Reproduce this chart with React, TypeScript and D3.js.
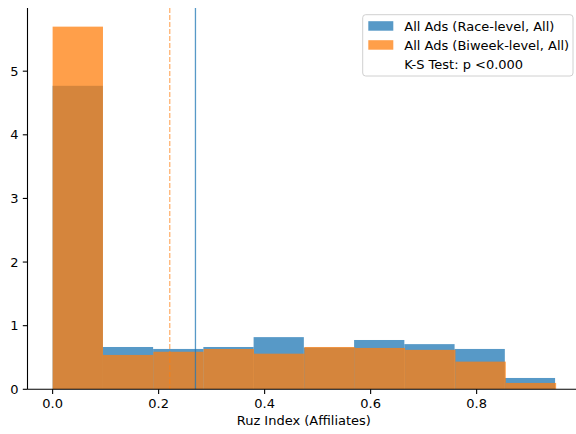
import React from "react";
import * as d3 from "d3";

const blueEdges = [0, 0.0948, 0.1896, 0.2844, 0.3792, 0.474, 0.5688, 0.6636, 0.7584, 0.8532, 0.948];
const blueValues = [4.77, 0.665, 0.634, 0.665, 0.82, 0.655, 0.775, 0.71, 0.634, 0.178];
const orangeEdges = [0, 0.095, 0.19, 0.285, 0.38, 0.475, 0.57, 0.665, 0.76, 0.855, 0.95];
const orangeValues = [5.7, 0.54, 0.59, 0.634, 0.56, 0.665, 0.65, 0.62, 0.435, 0.1];
const blueMean = 0.2695;
const orangeMean = 0.221;
const xTicks = [0, 0.2, 0.4, 0.6, 0.8];
const yTicks = [0, 1, 2, 3, 4, 5];
const legendLabels = ["All Ads (Race-level, All)", "All Ads (Biweek-level, All)", "K-S Test: p <0.000"];
const xLabel = "Ruz Index (Affiliates)";

const W = 576, H = 434;
const left = 27.5, right = 580.2, top = 8, bottom = 389.3;
const BLUE = "#1f77b4", ORANGE = "#ff7f0e";
const FONT = "DejaVu Sans, sans-serif";

export default function App() {
  const x = d3.scaleLinear().domain([-0.0474, 0.9954]).range([left, right]);
  const y = d3.scaleLinear().domain([0, 5.993]).range([bottom, top]);

  const bars = (edges: number[], vals: number[], color: string, key: string) =>
    vals.map((v, i) => (
      <rect
        key={key + i}
        x={x(edges[i])}
        y={y(v)}
        width={x(edges[i + 1]) - x(edges[i])}
        height={y(0) - y(v)}
        fill={color}
        fillOpacity={0.75}
      />
    ));

  const lx = 362.7, ly = 14.7, lw = 210.3, lh = 61.3;
  const rows = [26.2, 45.2, 64.4];

  return (
    <svg width={W} height={H} style={{ position: "absolute", left: 0, top: 0, background: "#fff" }}>
      <defs>
        <clipPath id="plot">
          <rect x={left} y={top} width={right - left} height={bottom - top} />
        </clipPath>
      </defs>
      <g clipPath="url(#plot)">
        {bars(blueEdges, blueValues, BLUE, "b")}
        {bars(orangeEdges, orangeValues, ORANGE, "o")}
        <line x1={x(orangeMean)} x2={x(orangeMean)} y1={top} y2={bottom} stroke={ORANGE} strokeOpacity={0.6} strokeWidth={1.3} strokeDasharray="5,2" />
        <line x1={x(blueMean)} x2={x(blueMean)} y1={top} y2={bottom} stroke={BLUE} strokeOpacity={0.75} strokeWidth={1.3} />
      </g>
      {/* spines */}
      <line x1={left} x2={left} y1={top} y2={bottom} stroke="#000" strokeWidth={1.1} />
      <line x1={left} x2={right} y1={bottom} y2={bottom} stroke="#000" strokeWidth={1.1} />
      {/* x ticks */}
      {xTicks.map((t) => (
        <g key={"xt" + t}>
          <line x1={x(t)} x2={x(t)} y1={bottom} y2={bottom + 4.7} stroke="#000" strokeWidth={1.1} />
          <text x={x(t)} y={408.3} textAnchor="middle" fontFamily={FONT} fontSize={13} fill="#000">
            {d3.format(".1f")(t)}
          </text>
        </g>
      ))}
      {/* y ticks */}
      {yTicks.map((t) => (
        <g key={"yt" + t}>
          <line x1={left - 4.7} x2={left} y1={y(t)} y2={y(t)} stroke="#000" strokeWidth={1.1} />
          <text x={left - 9} y={y(t)} dy="0.35em" textAnchor="end" fontFamily={FONT} fontSize={13} fill="#000">
            {t}
          </text>
        </g>
      ))}
      <text x={(left + right) / 2 - 0} y={424.5} textAnchor="middle" fontFamily={FONT} fontSize={13} fill="#000">
        {xLabel}
      </text>
      {/* legend */}
      <rect x={lx} y={ly} width={lw} height={lh} rx={3} fill="#fff" fillOpacity={0.8} stroke="#d0d0d0" strokeWidth={1} />
      <rect x={368.3} y={rows[0] - 5} width={25} height={9.5} fill={BLUE} fillOpacity={0.75} />
      <rect x={368.3} y={rows[1] - 5} width={25} height={9.5} fill={ORANGE} fillOpacity={0.75} />
      {legendLabels.map((l, i) => (
        <text key={l} x={404.3} y={rows[i]} dy="0.38em" fontFamily={FONT} fontSize={13} fill="#000">
          {l}
        </text>
      ))}
    </svg>
  );
}
